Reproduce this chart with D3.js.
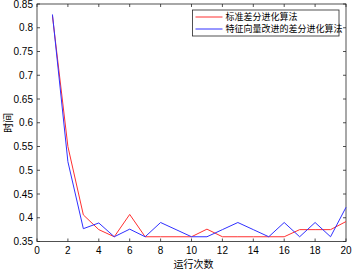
<!DOCTYPE html>
<html>
<head>
<meta charset="utf-8">
<script src="https://cdn.jsdelivr.net/npm/d3@7"></script>
<style>
  body { margin: 0; background: #fff; }
  text { font-family: "Liberation Sans", Arial, sans-serif; }
</style>
</head>
<body>
<svg id="chart" width="352" height="270"></svg>
<script>
// Data
const runs = [1,2,3,4,5,6,7,8,9,10,11,12,13,14,15,16,17,18,19,20];
const standardDE = [0.825,0.55,0.406,0.375,0.36,0.407,0.36,0.36,0.36,0.36,0.376,0.36,0.36,0.36,0.36,0.36,0.375,0.375,0.375,0.392];
const improvedDE = [0.828,0.518,0.377,0.389,0.36,0.376,0.36,0.39,0.375,0.36,0.36,0.375,0.39,0.375,0.36,0.39,0.36,0.39,0.36,0.422];
const xTicks = [0,2,4,6,8,10,12,14,16,18,20];
const yTicks = [0.35,0.4,0.45,0.5,0.55,0.6,0.65,0.7,0.75,0.8,0.85];
const seriesNames = ["标准差分进化算法", "特征向量改进的差分进化算法"];
const seriesColors = ["#ff3030", "#3030ff"];

// Draw chart
const svg = d3.select("#chart");
const mLeft = 37, mRight = 346, mTop = 4, mBottom = 241.5;
const axisColor = "#262626";

const x = d3.scaleLinear().domain([0, 20]).range([mLeft, mRight]);
const y = d3.scaleLinear().domain([0.35, 0.85]).range([mBottom, mTop]);

// Box
svg.append("rect")
  .attr("x", mLeft).attr("y", mTop)
  .attr("width", mRight - mLeft).attr("height", mBottom - mTop)
  .attr("fill", "none").attr("stroke", axisColor).attr("stroke-width", 0.8);

const tickLen = 3;
// x ticks (bottom and top, inward)
xTicks.forEach(t => {
  svg.append("line").attr("x1", x(t)).attr("x2", x(t))
    .attr("y1", mBottom).attr("y2", mBottom - tickLen)
    .attr("stroke", axisColor).attr("stroke-width", 0.8);
  svg.append("line").attr("x1", x(t)).attr("x2", x(t))
    .attr("y1", mTop).attr("y2", mTop + tickLen)
    .attr("stroke", axisColor).attr("stroke-width", 0.8);
  svg.append("text").attr("x", x(t)).attr("y", mBottom + 12)
    .attr("text-anchor", "middle").attr("font-size", 10).attr("fill", "#000")
    .text(t);
});

// y ticks (left and right, inward)
yTicks.forEach(t => {
  svg.append("line").attr("x1", mLeft).attr("x2", mLeft + tickLen)
    .attr("y1", y(t)).attr("y2", y(t))
    .attr("stroke", axisColor).attr("stroke-width", 0.8);
  svg.append("line").attr("x1", mRight).attr("x2", mRight - tickLen)
    .attr("y1", y(t)).attr("y2", y(t))
    .attr("stroke", axisColor).attr("stroke-width", 0.8);
  svg.append("text").attr("x", mLeft - 4).attr("y", y(t) + 3.5)
    .attr("text-anchor", "end").attr("font-size", 10).attr("fill", "#000")
    .text(d3.format("~g")(t));
});

// Axis labels
svg.append("text").attr("x", (mLeft + mRight) / 2 + 2).attr("y", 268)
  .attr("text-anchor", "middle").attr("font-size", 10)
  .style("font-family", "'Noto Sans CJK SC', sans-serif")
  .text("运行次数");
svg.append("text")
  .attr("transform", `translate(12, ${(mTop + mBottom) / 2}) rotate(-90)`)
  .attr("text-anchor", "middle").attr("font-size", 10)
  .style("font-family", "'Noto Sans CJK SC', sans-serif")
  .text("时间");

// Lines
const line = d3.line().x((d, i) => x(runs[i])).y(d => y(d));
[standardDE, improvedDE].forEach((s, i) => {
  svg.append("path").datum(s)
    .attr("d", line)
    .attr("fill", "none")
    .attr("stroke", seriesColors[i])
    .attr("stroke-width", 1);
});

// Legend
const lg = svg.append("g").attr("transform", "translate(192.5,10)");
lg.append("rect").attr("width", 146.5).attr("height", 26)
  .attr("fill", "#fff").attr("stroke", axisColor).attr("stroke-width", 0.8);
seriesNames.forEach((name, i) => {
  const yy = 7 + i * 12;
  lg.append("line").attr("x1", 3).attr("x2", 30)
    .attr("y1", yy).attr("y2", yy)
    .attr("stroke", seriesColors[i]).attr("stroke-width", 1);
  lg.append("text").attr("x", 33).attr("y", yy + 3.2)
    .attr("font-size", 9)
    .style("font-family", "'Noto Sans CJK SC', sans-serif")
    .text(name);
});
</script>
</body>
</html>
